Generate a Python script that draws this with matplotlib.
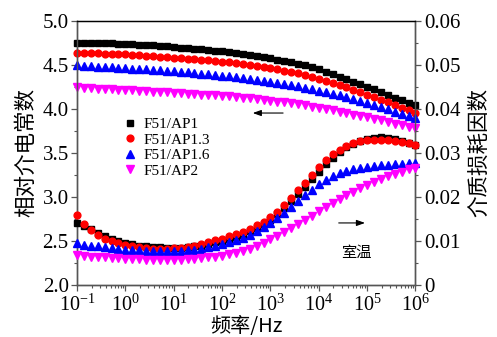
import matplotlib
matplotlib.use("Agg")
import matplotlib.pyplot as plt
from matplotlib.ticker import MultipleLocator, LogLocator, NullFormatter

plt.rcParams["font.family"] = ["Liberation Serif", "Noto Sans CJK SC"]
plt.rcParams["mathtext.fontset"] = "custom"
plt.rcParams["mathtext.rm"] = "Liberation Serif"
plt.rcParams["mathtext.it"] = "Liberation Serif:italic"

# frequency sweep: 7 points per decade, 0.1 Hz .. 1 MHz
mantissa = [1.0, 1.389, 1.931, 2.683, 3.728, 5.179, 7.197]
freq = [m * 10.0 ** d for d in range(-1, 6) for m in mantissa] + [1e6]

labels = ["F51/AP1", "F51/AP1.3", "F51/AP1.6", "F51/AP2"]

# relative permittivity
eps_ap1 = [4.750, 4.750, 4.748, 4.746, 4.744, 4.741, 4.738,
           4.735, 4.731, 4.727, 4.722, 4.717, 4.711, 4.706,
           4.700, 4.694, 4.688, 4.682, 4.675, 4.667, 4.659,
           4.650, 4.641, 4.632, 4.622, 4.611, 4.599, 4.586,
           4.570, 4.556, 4.542, 4.527, 4.512, 4.494, 4.470,
           4.445, 4.417, 4.392, 4.364, 4.336, 4.308, 4.279,
           4.250, 4.219, 4.188, 4.157, 4.126, 4.097, 4.068,
           4.040]
eps_ap13 = [4.630, 4.629, 4.628, 4.626, 4.624, 4.621, 4.618,
            4.615, 4.611, 4.606, 4.601, 4.596, 4.590, 4.585,
            4.580, 4.574, 4.568, 4.561, 4.554, 4.547, 4.541,
            4.535, 4.527, 4.519, 4.511, 4.501, 4.488, 4.474,
            4.460, 4.446, 4.431, 4.417, 4.400, 4.380, 4.360,
            4.340, 4.316, 4.292, 4.267, 4.242, 4.215, 4.187,
            4.160, 4.130, 4.100, 4.070, 4.040, 4.010, 3.980,
            3.950]
eps_ap16 = [4.490, 4.486, 4.481, 4.477, 4.473, 4.468, 4.464,
            4.460, 4.455, 4.450, 4.445, 4.440, 4.435, 4.430,
            4.425, 4.418, 4.411, 4.404, 4.397, 4.390, 4.382,
            4.375, 4.366, 4.356, 4.346, 4.336, 4.326, 4.316,
            4.305, 4.292, 4.279, 4.266, 4.252, 4.236, 4.220,
            4.205, 4.187, 4.168, 4.150, 4.130, 4.109, 4.087,
            4.065, 4.041, 4.017, 3.992, 3.967, 3.942, 3.916,
            3.890]
eps_ap2 = [4.240, 4.236, 4.231, 4.227, 4.223, 4.219, 4.214,
           4.210, 4.206, 4.201, 4.197, 4.193, 4.189, 4.184,
           4.180, 4.175, 4.170, 4.165, 4.160, 4.155, 4.150,
           4.145, 4.138, 4.131, 4.124, 4.116, 4.108, 4.099,
           4.090, 4.080, 4.070, 4.060, 4.049, 4.036, 4.023,
           4.010, 3.996, 3.981, 3.966, 3.950, 3.933, 3.917,
           3.900, 3.883, 3.866, 3.849, 3.831, 3.814, 3.797,
           3.780]

# dielectric loss factor
tan_ap1 = [0.0140, 0.0133, 0.0126, 0.0118, 0.0111, 0.0105, 0.0099,
           0.0095, 0.0092, 0.0089, 0.0087, 0.0086, 0.0085, 0.0084,
           0.0084, 0.0084, 0.0085, 0.0087, 0.0089, 0.0092, 0.0096,
           0.0100, 0.0104, 0.0109, 0.0114, 0.0121, 0.0129, 0.0137,
           0.0147, 0.0160, 0.0175, 0.0190, 0.0207, 0.0223, 0.0240,
           0.0257, 0.0274, 0.0289, 0.0301, 0.0312, 0.0320, 0.0327,
           0.0331, 0.0334, 0.0335, 0.0334, 0.0331, 0.0327, 0.0322,
           0.0318]
tan_ap13 = [0.0158, 0.0137, 0.0124, 0.0113, 0.0105, 0.0099, 0.0094,
            0.0090, 0.0087, 0.0085, 0.0083, 0.0082, 0.0082, 0.0082,
            0.0083, 0.0084, 0.0086, 0.0089, 0.0092, 0.0097, 0.0101,
            0.0105, 0.0110, 0.0115, 0.0120, 0.0127, 0.0135, 0.0143,
            0.0153, 0.0166, 0.0181, 0.0198, 0.0215, 0.0232, 0.0250,
            0.0267, 0.0283, 0.0296, 0.0307, 0.0316, 0.0322, 0.0326,
            0.0328, 0.0329, 0.0329, 0.0328, 0.0326, 0.0324, 0.0321,
            0.0318]
tan_ap16 = [0.0094, 0.0091, 0.0089, 0.0087, 0.0085, 0.0083, 0.0082,
            0.0080, 0.0079, 0.0078, 0.0077, 0.0077, 0.0076, 0.0076,
            0.0077, 0.0077, 0.0078, 0.0080, 0.0082, 0.0085, 0.0088,
            0.0092, 0.0096, 0.0101, 0.0107, 0.0114, 0.0122, 0.0131,
            0.0141, 0.0152, 0.0164, 0.0177, 0.0190, 0.0203, 0.0216,
            0.0228, 0.0238, 0.0246, 0.0253, 0.0259, 0.0263, 0.0266,
            0.0268, 0.0270, 0.0272, 0.0273, 0.0274, 0.0275, 0.0276,
            0.0277]
tan_ap2 = [0.0068, 0.0066, 0.0064, 0.0063, 0.0062, 0.0061, 0.0060,
           0.0059, 0.0058, 0.0058, 0.0057, 0.0057, 0.0057, 0.0057,
           0.0057, 0.0057, 0.0058, 0.0059, 0.0060, 0.0062, 0.0064,
           0.0066, 0.0069, 0.0072, 0.0076, 0.0082, 0.0088, 0.0095,
           0.0103, 0.0111, 0.0119, 0.0128, 0.0138, 0.0147, 0.0157,
           0.0167, 0.0176, 0.0185, 0.0194, 0.0203, 0.0211, 0.0219,
           0.0226, 0.0233, 0.0240, 0.0246, 0.0252, 0.0257, 0.0262,
           0.0266]

eps_all = [eps_ap1, eps_ap13, eps_ap16, eps_ap2]
tan_all = [tan_ap1, tan_ap13, tan_ap16, tan_ap2]
colors = ["#000000", "#ff0000", "#0000ff", "#ff00ff"]
markers = ["s", "o", "^", "v"]
msizes = [4.1, 4.9, 5.1, 5.1]

fig = plt.figure(figsize=(4.97, 3.37), dpi=100)
ax = fig.add_axes([0.155, 0.155, 0.681, 0.784])
ax2 = ax.twinx()

handles = []
for e, t, c, m, s, lab in zip(eps_all, tan_all, colors, markers, msizes, labels):
    h, = ax.plot(freq, e, linestyle="none", marker=m, ms=s, color=c,
                 mec=c, label=lab, clip_on=False, zorder=3)
    ax2.plot(freq, t, linestyle="none", marker=m, ms=s, color=c,
             mec=c, clip_on=False, zorder=3)
    handles.append(h)

ax.set_xscale("log")
ax.set_xlim(0.1, 1e6)
ax.set_ylim(2.0, 5.0)
ax2.set_ylim(0, 0.06)

ax.yaxis.set_major_locator(MultipleLocator(0.5))
ax.yaxis.set_minor_locator(MultipleLocator(0.25))
ax.yaxis.set_major_formatter(plt.FormatStrFormatter("%.1f"))
ax2.yaxis.set_minor_locator(MultipleLocator(0.005))
ax2.set_yticks([0, 0.01, 0.02, 0.03, 0.04, 0.05, 0.06])
ax2.set_yticklabels(["0", "0.01", "0.02", "0.03", "0.04", "0.05", "0.06"])
ax.xaxis.set_major_locator(LogLocator(base=10, numticks=10))
ax.xaxis.set_minor_locator(LogLocator(base=10, subs=range(2, 10), numticks=20))
ax.xaxis.set_minor_formatter(NullFormatter())

spine_c = "#555555"
for a in (ax, ax2):
    for side in ("left", "right", "bottom"):
        a.spines[side].set_color(spine_c)
        a.spines[side].set_linewidth(1.0)
    a.spines["top"].set_linewidth(0.9)
ax.tick_params(axis="both", which="major", direction="out", length=4,
               width=0.9, color=spine_c, labelsize=15, pad=2)
ax.tick_params(axis="x", which="major", labelsize=14.5, pad=3)
ax.tick_params(axis="both", which="minor", direction="out", length=2.2,
               width=0.8, color=spine_c)
ax.tick_params(axis="x", top=False, which="both")
ax2.tick_params(axis="y", which="major", direction="out", length=4,
                width=0.9, color=spine_c, labelsize=15, pad=2)
ax2.tick_params(axis="y", which="minor", direction="out", length=2.2,
                width=0.8, color=spine_c)

ax.set_ylabel("相对介电常数", family=["Noto Sans CJK SC"], fontsize=15.5, labelpad=4)
ax2.set_ylabel("介质损耗因数", family=["Noto Sans CJK SC"], fontsize=15.5, labelpad=6)
ax.set_xlabel("频率/Hz", family=["Noto Sans CJK SC", "Liberation Serif"], fontsize=14.5, labelpad=0.5)

ax.legend(handles=handles, loc="upper left", bbox_to_anchor=(0.13, 0.645),
          frameon=False, fontsize=11, handlelength=0.8, handletextpad=0.5,
          labelspacing=0.12, borderpad=0.2, borderaxespad=0)

arrow = dict(arrowstyle="-|>,head_length=0.5,head_width=0.18", color="black", lw=0.8)
ax.annotate("", xy=(0.511, 0.65), xytext=(0.617, 0.65), xycoords="axes fraction",
            textcoords="axes fraction", arrowprops=arrow)
ax.annotate("", xy=(0.859, 0.234), xytext=(0.765, 0.234), xycoords="axes fraction",
            textcoords="axes fraction", arrowprops=arrow)
ax.text(0.824, 0.123, "室温", transform=ax.transAxes, ha="center", va="center",
        family=["Noto Sans CJK SC"], fontsize=11)

fig.savefig("out.png", dpi=100)
